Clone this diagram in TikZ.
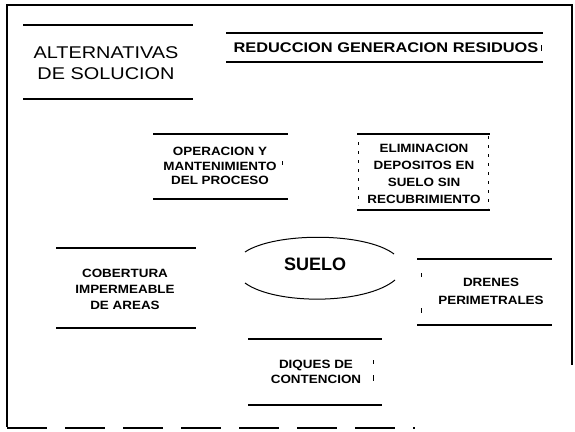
\documentclass[tikz,border=0pt]{standalone}
\usepackage{fontspec}
\setmainfont{Liberation Sans}
\newfontfamily\wsf[FakeStretch=1.17]{Liberation Sans}
\newfontfamily\bsf[FakeStretch=1.12]{Liberation Sans}
\begin{document}
\begin{tikzpicture}[x=1pt,y=-1pt,
  rule/.style={line width=1.2pt},
  faint/.style={line width=0.8pt, dash pattern=on 3pt off 6pt},
  lbl/.style={align=center, inner sep=0pt},
  small/.style={lbl, font=\bsf\bfseries\fontsize{12}{#1}\selectfont},
  small/.default=15]
\useasboundingbox (0,0) rectangle (575,431);
% outer frame
\draw[rule] (7,427) -- (7,5) -- (572,5) -- (572,365);
\draw[rule, dash pattern=on 40pt off 18pt] (7,428) -- (415,428);

% title
\node[lbl, font=\wsf\fontsize{17}{21}\selectfont] (alt) at (106,63) {ALTERNATIVAS\\DE SOLUCION};
\draw[rule] (23,25) -- (193,25);
\draw[rule] (23,99) -- (193,99);

% reduccion
\node[lbl, font=\wsf\bfseries\fontsize{14}{17}\selectfont] (red) at (386,48) {REDUCCION GENERACION RESIDUOS};
\draw[rule] (226,33) -- (543,33);
\draw[rule] (226,62) -- (543,62);
\draw[line width=0.8pt] (541,45) -- (541,51);

% operacion
\node[small=14.5] (ope) at (220,166) {OPERACION Y\\MANTENIMIENTO\\DEL PROCESO};
\draw[rule] (153,134) -- (288,134);
\draw[rule] (153,199) -- (288,199);
\draw[line width=0.6pt] (282,161) -- (282,165);

% eliminacion
\node[small=17] (eli) at (424,174) {ELIMINACION\\DEPOSITOS EN\\SUELO SIN\\RECUBRIMIENTO};
\draw[rule] (357,134) -- (490,134);
\draw[rule] (357,210) -- (490,210);
\draw[faint] (488,136) -- (488,208);
\draw[faint] (358,142) -- (358,205);

% cobertura
\node[small=16] (cob) at (125,289) {COBERTURA\\IMPERMEABLE\\DE AREAS};
\draw[rule] (56,248) -- (196,248);
\draw[rule] (56,328) -- (196,328);

% suelo
\node[lbl, font=\bfseries\fontsize{18}{21}\selectfont] (sue) at (315,264) {SUELO};
\draw[line width=1pt] (245,252) .. controls (275,232) and (365,232) .. (394,254);
\draw[line width=1pt] (245,283) .. controls (275,305) and (365,305) .. (395,280);

% drenes
\node[small=18] (dre) at (491,291) {DRENES\\PERIMETRALES};
\draw[rule] (417,259) -- (552,259);
\draw[rule] (417,325) -- (552,325);
\draw[line width=0.8pt] (421,273) -- (421,277);
\draw[line width=0.8pt] (421,308) -- (421,313);

% diques
\node[small=15] (diq) at (316,372) {DIQUES DE\\CONTENCION};
\draw[rule] (248,339) -- (382,339);
\draw[rule] (248,405) -- (382,405);
\draw[line width=0.6pt] (373,360) -- (373,364);
\draw[line width=0.6pt] (373,375) -- (373,381);
\end{tikzpicture}
\end{document}
